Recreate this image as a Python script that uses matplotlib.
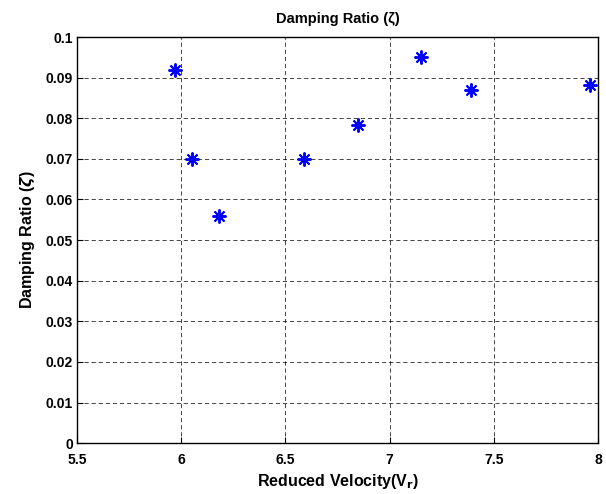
import matplotlib
matplotlib.use('Agg')
import matplotlib.pyplot as plt

plt.rcParams['font.family'] = ['Liberation Sans', 'DejaVu Sans']
plt.rcParams['font.weight'] = 'bold'

# reduced velocity vs damping ratio
vr = [5.97, 6.05, 6.18, 6.59, 6.85, 7.15, 7.39, 7.96]
zeta = [0.092, 0.070, 0.056, 0.070, 0.0783, 0.095, 0.087, 0.0882]
xticks = [5.5, 6, 6.5, 7, 7.5, 8]
yticks = [0, 0.01, 0.02, 0.03, 0.04, 0.05, 0.06, 0.07, 0.08, 0.09, 0.1]
yticklabels = ['0', '0.01', '0.02', '0.03', '0.04', '0.05', '0.06', '0.07', '0.08', '0.09', '0.1']

fig = plt.figure(figsize=(6.06, 4.94), dpi=100)
ax = fig.add_axes([0.127, 0.103, 0.86, 0.822])

ax.plot(vr, zeta, linestyle='none', marker=(8, 2, 0), markersize=10,
        markeredgewidth=1.4, color='blue', markeredgecolor='blue')

ax.set_xlim(5.5, 8)
ax.set_ylim(0, 0.1)
ax.set_xticks(xticks)
ax.set_xticklabels(['5.5', '6', '6.5', '7', '7.5', '8'])
ax.set_yticks(yticks)
ax.set_yticklabels(yticklabels)
ax.tick_params(direction='in', labelsize=10, length=4, width=0.8)
ax.tick_params(axis='x', pad=7)
ax.tick_params(axis='y', pad=3)
for lab in ax.get_xticklabels() + ax.get_yticklabels():
    lab.set_fontweight('bold')
ax.grid(True, color='k', linestyle=(0, (5, 3.5)), linewidth=0.6, alpha=0.85)
for s in ax.spines.values():
    s.set_linewidth(1.0)

ax.set_title('Damping Ratio (ζ)', fontsize=10.5, fontweight='bold', pad=10)
ax.set_xlabel('Reduced Velocity(V$_\\mathbf{r}$)', fontsize=11.5, fontweight='bold', labelpad=4)
ax.set_ylabel('Damping Ratio ($\\zeta$)', fontsize=11.5, fontweight='bold', labelpad=6)

fig.savefig('out.png', dpi=100)
